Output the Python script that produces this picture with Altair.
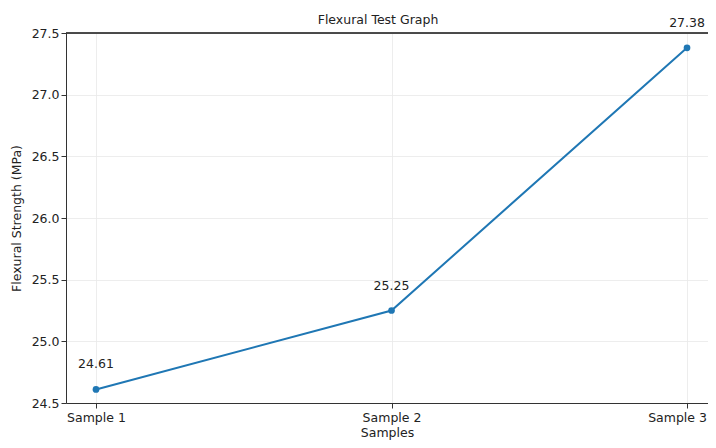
import altair as alt
import pandas as pd

samples = ["Sample 1", "Sample 2", "Sample 3"]
strength = [24.61, 25.25, 27.38]
label_text = ["24.61", "25.25", "27.38"]

df = pd.DataFrame({
    "idx": list(range(len(samples))),
    "sample": samples,
    "strength": strength,
    "label": label_text,
})

font = "DejaVu Sans"
fs = 12.5

x = alt.X("idx:Q",
          scale=alt.Scale(domain=[-0.1015, 2.071], nice=False, zero=False),
          axis=alt.Axis(values=[0, 1, 2], labelExpr="['Sample 1','Sample 2','Sample 3'][datum.value]",
                        labelOffset={"condition": {"test": "datum.value == 2", "value": -10}, "value": 0},
                        title="Samples", grid=True, labelPadding=3, titlePadding=3))
y = alt.Y("strength:Q",
          scale=alt.Scale(domain=[24.5, 27.5], nice=False, zero=False),
          axis=alt.Axis(values=[24.5, 25.0, 25.5, 26.0, 26.5, 27.0, 27.5], format=".1f",
                        title="Flexural Strength (MPa)", grid=True, labelPadding=2, titlePadding=8))

base = alt.Chart(df)
line = base.mark_line(color="#1f77b4", strokeWidth=2).encode(x=x, y=y)
pts = base.mark_point(filled=True, color="#1f77b4", size=45, opacity=1).encode(x=x, y=y)
txt = base.mark_text(baseline="middle", dy=-25, fontSize=fs, font=font, color="#222222").encode(
    x=x, y=y, text="label:N")
top_spine = alt.Chart(df).mark_rule(color="#333333", strokeWidth=1).encode(
    x=alt.value(0), x2=alt.value(642), y=alt.value(0))

chart = (line + pts + txt + top_spine).properties(
    width=642, height=370,
    title=alt.TitleParams("Flexural Test Graph", fontSize=fs, font=font, fontWeight="normal",
                          color="#222222", dx=-9, dy=10, offset=0),
    autosize=alt.AutoSizeParams(type="none"),
    padding={"left": 58, "top": 25, "right": 0, "bottom": 37},
).configure_view(strokeWidth=0).configure_axis(
    labelFont=font, titleFont=font, labelFontSize=fs, titleFontSize=fs,
    labelColor="#222222", titleColor="#222222", titleFontWeight="normal",
    domainColor="#333333", tickColor="#333333", tickSize=5,
    gridColor="#e8e8e8", gridWidth=0.8,
)

chart.save("out.html", embed_options={"renderer": "svg", "actions": False})
